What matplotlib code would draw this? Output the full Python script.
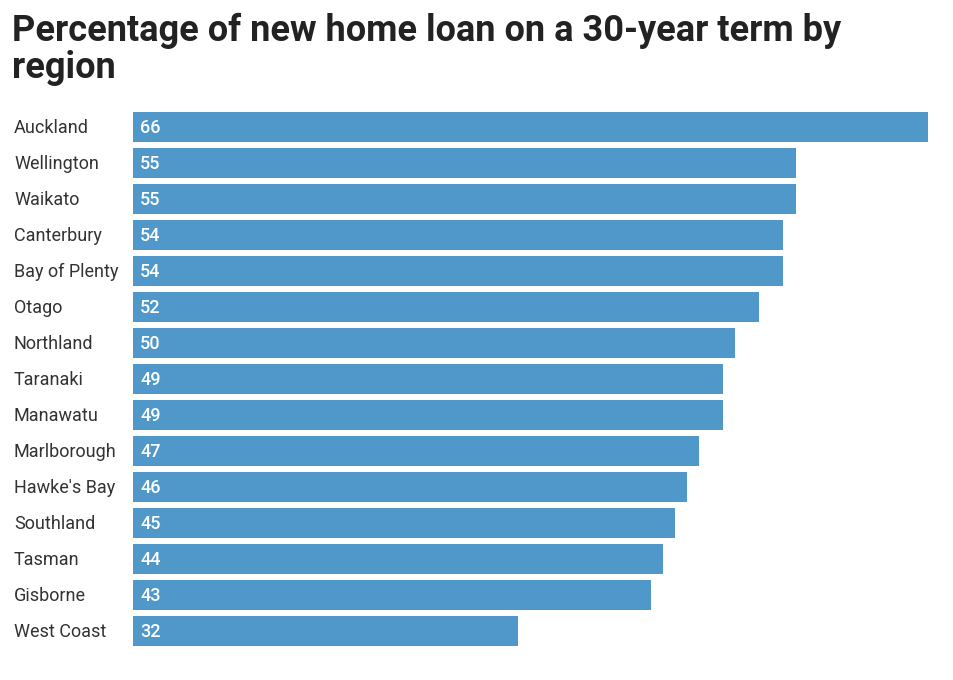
import matplotlib.pyplot as plt

regions = ['Auckland', 'Wellington', 'Waikato', 'Canterbury', 'Bay of Plenty', 'Otago',
           'Northland', 'Taranaki', 'Manawatu', 'Marlborough', "Hawke's Bay", 'Southland',
           'Tasman', 'Gisborne', 'West Coast']
percent = [66, 55, 55, 54, 54, 52, 50, 49, 49, 47, 46, 45, 44, 43, 32]

plt.rcParams['font.family'] = ['Roboto', 'DejaVu Sans']

W, H = 954, 680
fig = plt.figure(figsize=(W / 100, H / 100), dpi=100)

# axes placed in pixel terms: bars start at x=133, 66 ends at x=928
ax = fig.add_axes([133 / W, 1 - 649 / H, 795 / W, 540 / H])
y = list(range(len(regions)))
ax.barh(y, percent, height=30 / 36, color='#4f98c9')
ax.set_xlim(0, 66)
ax.set_ylim(len(regions) - 0.5, -0.5)
ax.axis('off')

# baseline sits ~6px below bar centre
off = 6.3 / 36
for i, (name, v) in enumerate(zip(regions, percent)):
    ax.text(-119 / 795 * 66, i + off, name, ha='left', va='baseline', fontsize=13, color='#333333')
    ax.text(0.6, i + off, str(v), ha='left', va='baseline', fontsize=13, color='white', fontweight='medium')

title_lines = ['Percentage of new home loan on a 30-year term by', 'region']
for k, line in enumerate(title_lines):
    fig.text(12 / W, 1 - (40.7 + 37.6 * k) / H, line, ha='left', va='baseline',
             fontsize=26, fontweight='bold', color='#222222')

fig.savefig('out.png', dpi=100)
